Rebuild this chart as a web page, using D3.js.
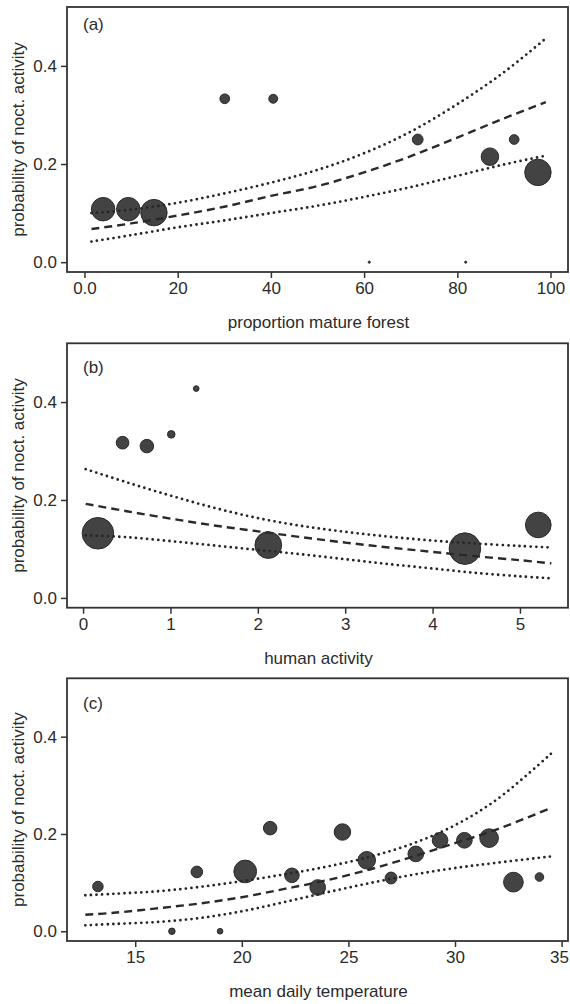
<!DOCTYPE html>
<html>
<head>
<meta charset="utf-8">
<script src="https://cdn.jsdelivr.net/npm/d3@7/dist/d3.min.js"></script>
<style>
  html, body { margin: 0; padding: 0; background: #fff; }
  text { font-family: "Liberation Sans", Arial, Helvetica, sans-serif; fill: #2b2b2b; }
</style>
</head>
<body>
<svg id="chart" width="570" height="1004"></svg>
<script>
// ---------- Data ----------
// Panel (a): proportion mature forest
const xA = [4.0, 9.4, 14.9, 30.1, 40.5, 61.1, 71.5, 81.8, 87.0, 92.2, 97.3];
const pA = [0.108, 0.108, 0.101, 0.333, 0.333, 0.0, 0.25, 0.0, 0.215, 0.25, 0.183];
const nA = [8.7, 8.7, 9.8, 3.6, 3.3, 0.8, 4.0, 0.8, 6.5, 3.6, 9.8];
const curveXA = [1.5, 10, 20, 30, 40, 50, 60, 70, 80, 90, 99];
const fitA = [0.0675, 0.079, 0.095, 0.113, 0.135, 0.155, 0.183, 0.216, 0.254, 0.293, 0.326];
const upA = [0.100, 0.107, 0.121, 0.140, 0.162, 0.188, 0.222, 0.266, 0.322, 0.387, 0.456];
const loA = [0.042, 0.055, 0.071, 0.085, 0.100, 0.115, 0.133, 0.153, 0.176, 0.199, 0.217];
const ticksXA = [0, 20, 40, 60, 80, 100];
const tickLabelsXA = ["0.0", "20", "40", "60", "80", "100"];

// Panel (b): human activity
const xB = [0.17, 0.452, 0.73, 1.009, 1.295, 2.12, 4.37, 5.21];
const pB = [0.132, 0.317, 0.31, 0.334, 0.4275, 0.108, 0.1006, 0.149];
const nB = [11.7, 4.7, 5.0, 2.8, 2.1, 9.9, 11.7, 9.5];
const curveXB = [0.03, 0.5, 1, 1.5, 2, 2.5, 3, 3.5, 4, 4.5, 5, 5.36];
const fitB = [0.192, 0.177, 0.162, 0.148, 0.136, 0.124, 0.113, 0.103, 0.094, 0.085, 0.077, 0.0705];
const upB = [0.263, 0.236, 0.209, 0.184, 0.163, 0.147, 0.135, 0.125, 0.117, 0.111, 0.106, 0.103];
const loB = [0.128, 0.124, 0.116, 0.107, 0.098, 0.089, 0.079, 0.069, 0.060, 0.051, 0.044, 0.040];
const ticksXB = [0, 1, 2, 3, 4, 5];
const tickLabelsXB = ["0", "1", "2", "3", "4", "5"];

// Panel (c): mean daily temperature
const xC = [13.25, 16.72, 17.89, 18.98, 20.16, 21.33, 22.35, 23.56, 24.72, 25.86, 27.0, 28.16, 29.3, 30.44, 31.6, 32.74, 33.96];
const pC = [0.092, 0.0, 0.122, 0.0, 0.123, 0.212, 0.115, 0.090, 0.204, 0.146, 0.1095, 0.159, 0.187, 0.187, 0.1915, 0.101, 0.1115];
const nC = [3.9, 2.4, 4.3, 2.1, 8.4, 5.0, 5.4, 5.8, 6.1, 6.5, 4.4, 5.8, 5.8, 5.8, 6.9, 7.3, 3.2];
const curveXC = [12.66, 14, 16, 18, 20, 22, 24, 26, 28, 30, 32, 34.53];
const fitC = [0.034, 0.038, 0.047, 0.057, 0.070, 0.087, 0.105, 0.127, 0.153, 0.181, 0.210, 0.254];
const upC = [0.074, 0.077, 0.082, 0.091, 0.103, 0.117, 0.133, 0.153, 0.180, 0.218, 0.272, 0.366];
const loC = [0.0123, 0.015, 0.019, 0.027, 0.041, 0.060, 0.080, 0.099, 0.116, 0.130, 0.141, 0.154];
const ticksXC = [15, 20, 25, 30, 35];
const tickLabelsXC = ["15", "20", "25", "30", "35"];

const ticksY = [0, 0.2, 0.4];
const tickLabelsY = ["0.0", "0.2", "0.4"];
const yLabel = "probability of noct. activity";

// ---------- Layout ----------
const panels = [
  { tag: "(a)", title: "proportion mature forest", top: 7, bottom: 272, xdom: [-3.75, 103.75],
    x: xA, p: pA, n: nA, cx: curveXA, fit: fitA, up: upA, lo: loA, ticks: ticksXA, labels: tickLabelsXA, tagY: 30 },
  { tag: "(b)", title: "human activity", top: 343.3, bottom: 607.7, xdom: [-0.184, 5.55],
    x: xB, p: pB, n: nB, cx: curveXB, fit: fitB, up: upB, lo: loB, ticks: ticksXB, labels: tickLabelsXB, tagY: 373 },
  { tag: "(c)", title: "mean daily temperature", top: 678.3, bottom: 941, xdom: [11.8, 35.3],
    x: xC, p: pC, n: nC, cx: curveXC, fit: fitC, up: upC, lo: loC, ticks: ticksXC, labels: tickLabelsXC, tagY: 709 }
];
const left = 67, right = 568;
const rScale = d3.scaleLinear().domain([0, 10]).range([0, 13.5]);
const svg = d3.select("#chart");
const fs = 17;

panels.forEach(P => {
  const x = d3.scaleLinear().domain(P.xdom).range([left, right]);
  const y = d3.scaleLinear().domain([-0.02, 0.52]).range([P.bottom, P.top]);
  const g = svg.append("g");

  // points
  const pts = P.x.map((v, i) => ({ x: v, p: P.p[i], n: P.n[i] }));
  g.selectAll("circle").data(pts).enter().append("circle")
    .attr("cx", d => x(d.x)).attr("cy", d => y(d.p))
    .attr("r", d => rScale(d.n))
    .attr("fill", "#434343").attr("stroke", "#2a2a2a").attr("stroke-width", 1);

  // curves
  const line = d3.line().x(d => x(d[0])).y(d => y(d[1])).curve(d3.curveCatmullRom.alpha(0.5));
  const mk = arr => P.cx.map((v, i) => [v, arr[i]]);
  g.append("path").attr("d", line(mk(P.fit))).attr("fill", "none")
    .attr("stroke", "#2a2a2a").attr("stroke-width", 2.4).attr("stroke-dasharray", "8 5");
  [P.up, P.lo].forEach(arr => {
    g.append("path").attr("d", line(mk(arr))).attr("fill", "none")
      .attr("stroke", "#262626").attr("stroke-width", 2.8).attr("stroke-linecap", "round")
      .attr("stroke-dasharray", "0 5.6");
  });

  // box
  g.append("rect").attr("x", left).attr("y", P.top)
    .attr("width", right - left).attr("height", P.bottom - P.top)
    .attr("fill", "none").attr("stroke", "#333").attr("stroke-width", 1.8);

  // x axis
  const xAxis = d3.axisBottom(x).tickValues(P.ticks).tickSize(6).tickPadding(4)
    .tickFormat((d, i) => P.labels[i]);
  const gx = g.append("g").attr("transform", `translate(0,${P.bottom})`).call(xAxis);
  gx.select(".domain").remove();
  gx.selectAll(".tick line").attr("stroke", "#333").attr("stroke-width", 1.5);
  gx.selectAll(".tick text").attr("font-size", fs).attr("fill", "#2b2b2b")
    .attr("font-family", "Liberation Sans, Arial, sans-serif")
    .attr("dx", d => (x(d) + 10 > 570 ? -(x(d) + 10 - 569) : 0));

  // y axis
  const yAxis = d3.axisLeft(y).tickValues(ticksY).tickSize(6).tickPadding(4)
    .tickFormat((d, i) => tickLabelsY[i]);
  const gy = g.append("g").attr("transform", `translate(${left},0)`).call(yAxis);
  gy.select(".domain").remove();
  gy.selectAll(".tick line").attr("stroke", "#333").attr("stroke-width", 1.5);
  gy.selectAll(".tick text").attr("font-size", fs).attr("fill", "#2b2b2b")
    .attr("font-family", "Liberation Sans, Arial, sans-serif");

  // titles
  g.append("text").attr("x", (left + right) / 2 + 1).attr("y", P.bottom + 56)
    .attr("text-anchor", "middle").attr("font-size", fs).text(P.title);
  g.append("text")
    .attr("transform", `translate(24,${(P.top + P.bottom) / 2}) rotate(-90)`)
    .attr("text-anchor", "middle").attr("font-size", fs).text(yLabel);
  g.append("text").attr("x", 83).attr("y", P.tagY).attr("font-size", fs).text(P.tag);
});
</script>
</body>
</html>
